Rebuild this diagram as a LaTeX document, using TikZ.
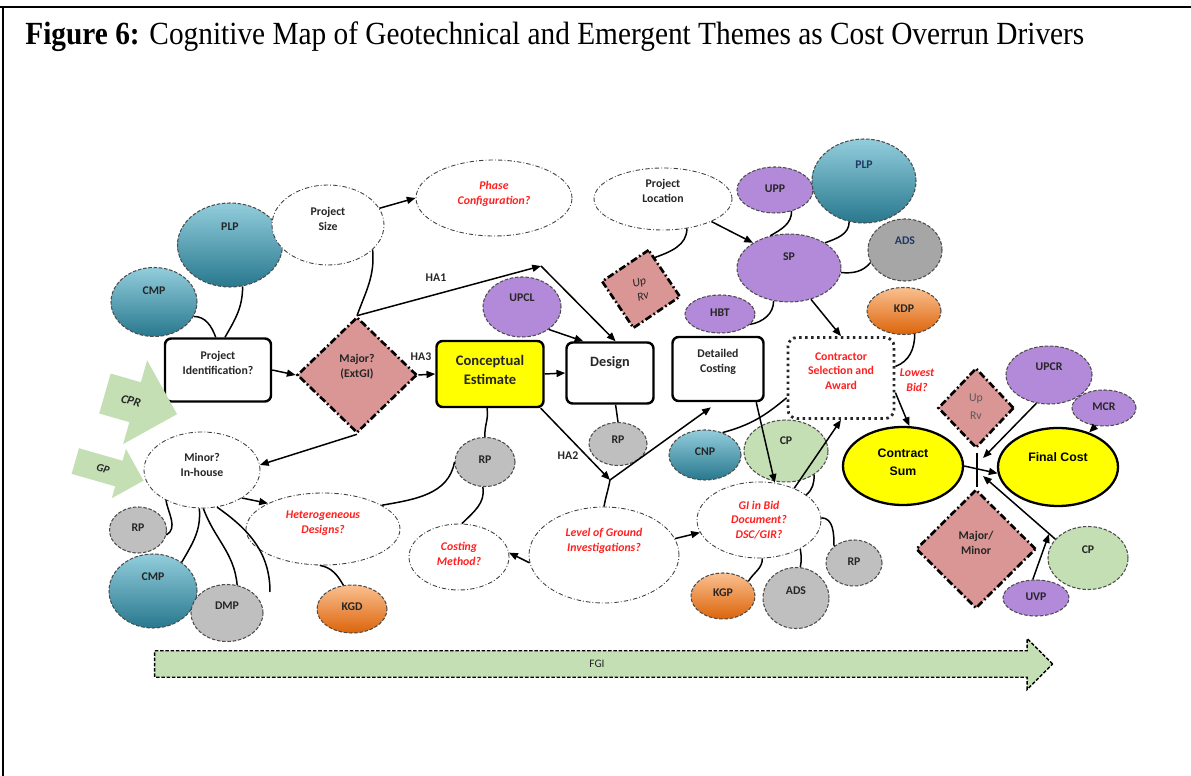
\documentclass[tikz,border=0pt]{standalone}
\usepackage{fontspec}
\setmainfont{Liberation Serif}
\setsansfont{Carlito}
\newfontfamily\arialbf{Liberation Sans}
\usetikzlibrary{arrows.meta,shapes.geometric,shapes.arrows,positioning}

\definecolor{tealtop}{RGB}{146,205,220}
\definecolor{tealbot}{RGB}{40,120,142}
\definecolor{orgtop}{RGB}{250,192,144}
\definecolor{orgbot}{RGB}{220,100,10}
\definecolor{purp}{RGB}{179,137,217}
\definecolor{greyf}{RGB}{191,191,191}
\definecolor{greyd}{RGB}{166,166,166}
\definecolor{sage}{RGB}{196,223,180}
\definecolor{rose}{RGB}{217,150,148}
\definecolor{yell}{RGB}{255,255,0}
\definecolor{redtx}{RGB}{255,32,32}
\definecolor{navy}{RGB}{31,56,100}
\newcommand{\pxu}{0.02cm}

\begin{document}
\begin{tikzpicture}[x=0.02cm,y=-0.02cm,>={Triangle[length=5pt,width=4pt]},
    lbl/.style={font=\sffamily\bfseries\fontsize{6.7}{8.4}\selectfont,text=black!85,align=center,inner sep=0pt},
    redit/.style={text=redtx,font=\sffamily\bfseries\itshape\fontsize{6.7}{8.4}\selectfont},
    tx/.style n args={3}{label={[lbl,#3,yshift=#1*\pxu]center:{#2}}},
    sz/.style 2 args={minimum width=#1*\pxu,minimum height=#2*\pxu,inner sep=0pt},
    open/.style={ellipse,draw=black!75,line width=0.5pt,dash pattern=on 2.5pt off 1.2pt on 0.5pt off 1.2pt,fill=white},
    blob/.style={ellipse,draw=black!70,line width=0.6pt,dash pattern=on 2pt off 1pt},
    tealb/.style={blob,top color=tealtop,bottom color=tealbot},
    orgb/.style={blob,top color=orgtop,bottom color=orgbot},
    purpb/.style={blob,fill=purp},
    greyb/.style={blob,fill=greyf},
    sageb/.style={blob,fill=sage},
    rvb/.style={draw=black,fill=rose,line width=1.5pt,dash pattern=on 4pt off 1.5pt on 1pt off 1.5pt},
    dia/.style={rvb,diamond},
    stage/.style={rectangle,rounded corners=3.5pt,draw=black,line width=1.4pt,fill=white},
    bigarr/.style={single arrow,fill=sage,draw=none,text=black!85,inner xsep=1pt},
    link/.style={line width=0.85pt,black}]

  \useasboundingbox (0,0) rectangle (1191,776);
  \draw[line width=1pt] (0,7) -- (1191,7);
  \draw[line width=0.7pt] (3,7) -- (3,776);
  \node[anchor=base west,inner sep=0pt,font=\fontsize{16.7}{19}\selectfont] (title) at (25,45)
    {\scalebox{1}[1.1]{\textbf{Figure 6:} Cognitive Map of Geotechnical and Emergent Themes as Cost Overrun Drivers}};

  % left side
  \node[tealb,sz={105}{84},tx={18}{PLP}{}] (plpL) at (230,245) {};
  \node[tealb,sz={86}{69},tx={11}{CMP}{}] (cmpT) at (154,302) {};
  \node[open,sz={112}{80},tx={6}{Project\\Size}{}] (psize) at (328,225) {};
  \node[open,sz={156}{76},tx={4}{Phase\\Configuration?}{redit}] (phase) at (494,198) {};
  \node[stage,sz={106}{63},tx={7}{Project\\Identification?}{}] (pid) at (218,370) {};
  \node[dia,sz={120}{116},tx={8}{Major?\\(ExtGI)}{}] (major) at (357,375) {};
  \node[bigarr,rotate=-16,minimum height=75*\pxu,inner ysep=9.3pt,single arrow head extend=13pt,
        font=\sffamily\bfseries\itshape\fontsize{7}{8}\selectfont] (cpr) at (131,401) {CPR};
  \node[bigarr,rotate=-16,minimum height=71*\pxu,inner ysep=5.3pt,single arrow head extend=7pt,
        font=\sffamily\bfseries\itshape\fontsize{6.3}{7}\selectfont] (gp) at (103,469) {GP};
  \node[open,sz={116}{76},tx={5}{Minor?\\In-house}{}] (minor) at (202,470) {};
  \node[open,sz={154}{72},tx={6}{Heterogeneous\\Designs?}{redit}] (hetero) at (323,529) {};
  \node[greyb,sz={57}{46},tx={2}{RP}{}] (rpL) at (138,530) {};
  \node[tealb,sz={88}{74},tx={14}{CMP}{}] (cmpB) at (153,591) {};
  \node[greyb,sz={72}{57},tx={7}{DMP}{}] (dmp) at (227,613) {};
  \node[orgb,sz={70}{48},tx={2}{KGD}{}] (kgd) at (352,609) {};

  % middle
  \node[stage,fill=yell,sz={107}{66},tx={4}{Conceptual\\Estimate}{font=\sffamily\bfseries\fontsize{8.3}{11.3}\selectfont}] (ce) at (490,374) {};
  \node[purpb,sz={78}{60},tx={9}{UPCL}{}] (upcl) at (522,307) {};
  \node[stage,sz={87}{61},tx={10}{Design}{font=\sffamily\bfseries\fontsize{8.1}{10}\selectfont}] (design) at (610,373) {};
  \node[stage,sz={91}{64},tx={7}{Detailed\\Costing}{}] (dcost) at (718,369) {};
  \node[open,sz={138}{62},tx={8}{Project\\Location}{}] (ploc) at (663,199) {};
  \node[rvb,rectangle,sz={56}{56},rotate=34,
        tx={0}{Up\\Rv}{rotate=15,font=\sffamily\itshape\fontsize{6.7}{8.4}\selectfont}] (uprvT) at (641,289) {};
  \node[greyb,sz={60}{49},tx={2}{RP}{}] (rpM) at (485,462) {};
  \node[open,sz={100}{66},tx={3}{Costing\\Method?}{redit}] (cmeth) at (459,557) {};
  \node[open,sz={150}{96},tx={14}{Level of Ground\\Investigations?}{redit}] (lgi) at (604,555) {};
  \node[greyb,sz={58}{43},tx={4}{RP}{}] (rpD) at (618,444) {};
  \node[tealb,sz={72}{50},tx={3}{CNP}{}] (cnp) at (705,455) {};
  \node[sageb,sz={84}{62},tx={10}{CP}{}] (cpM) at (786,451) {};
  \node[open,sz={124}{76},tx={0}{GI in Bid\\Document?\\DSC/GIR?}{redit}] (gib) at (759,520) {};
  \node[orgb,sz={64}{46},tx={3}{KGP}{}] (kgp) at (723,596) {};
  \node[greyb,sz={66}{61},tx={7}{ADS}{}] (adsB) at (796,598) {};
  \node[greyb,sz={56}{46},tx={1}{RP}{}] (rpR) at (854,563) {};

  % right side
  \node[purpb,sz={76}{46},tx={1}{UPP}{}] (upp) at (775,190) {};
  \node[tealb,sz={104}{84},tx={16}{PLP}{text=navy}] (plpR) at (864,181) {};
  \node[purpb,sz={104}{68},tx={11}{SP}{}] (sp) at (789,268) {};
  \node[greyb,fill=greyd,sz={74}{62},tx={9}{ADS}{text=navy}] (adsT) at (905,250) {};
  \node[orgb,sz={74}{47},tx={2}{KDP}{}] (kdp) at (904,311) {};
  \node[purpb,sz={70}{38},tx={1}{HBT}{}] (hbt) at (720,314) {};
  \node[stage,draw=black!85,dotted,line width=1.6pt,rounded corners=5pt,sz={106}{81},
        tx={7}{Contractor\\Selection and\\Award}{text=redtx}] (csa) at (841,378) {};
  \node[lbl,redit] (lbid) at (917,380) {Lowest\\Bid?};
  \node[ellipse,draw=black,line width=1.3pt,fill=yell,sz={120}{78},
        tx={4}{Contract\\Sum}{text=black,font=\arialbf\bfseries\fontsize{7}{10.2}\selectfont}] (csum) at (903,466) {};
  \node[ellipse,draw=black,line width=1.3pt,fill=yell,sz={120}{78},
        tx={10}{Final Cost}{text=black,font=\arialbf\bfseries\fontsize{7}{10.2}\selectfont}] (fcost) at (1058,467) {};
  \node[dia,sz={76}{80},tx={1}{Up\\Rv}{font=\sffamily\fontsize{6.7}{10.5}\selectfont,text=black!65}] (uprvR) at (976,408) {};
  \node[purpb,sz={86}{58},tx={8}{UPCR}{}] (upcr) at (1049,375) {};
  \node[purpb,sz={64}{36},tx={1}{MCR}{}] (mcr) at (1104,408) {};
  \node[dia,sz={120}{119},tx={6}{Major/\\Minor}{}] (mm) at (976,549) {};
  \node[sageb,sz={80}{63},tx={8}{CP}{}] (cpR) at (1088,558) {};
  \node[purpb,sz={66}{36},tx={1}{UVP}{}] (uvp) at (1036,598) {};

  % bottom band
  \node[bigarr,draw=black,dash pattern=on 2pt off 1pt,line width=0.8pt,minimum height=898*\pxu,
        inner ysep=5pt,single arrow head extend=7pt,font=\sffamily\fontsize{6.5}{7}\selectfont] (fgi) at (597,664) {FGI};

  % junction points
  \coordinate (jA) at (541,266);
  \coordinate (jB) at (610,480);
  \coordinate (jC) at (977,453);
  \coordinate (jD) at (977,487);
  \coordinate (jE) at (983,458);
  \coordinate (jF) at (983,476);
  \coordinate (jG) at (1049,534);
  \coordinate (jI) at (270,592);

  \node[lbl] (ha1) at (436,278) {HA1};
  \node[lbl] (ha3) at (421,357) {HA3};
  \node[lbl] (ha2) at (568,456) {HA2};

  % arrows
  \draw[link,->] (psize.18) -- (phase.west);
  \draw[link,->] (pid.east) -- (major.west);
  \draw[link,->] (major.east) -- (ce.west);
  \draw[link,->] (ce.east) -- (design.west);
  \draw[link,->] (major.north) -- (jA);
  \draw[link,->] (jA) -- (design.80);
  \draw[link,->] (upcl.-40) -- (design.130);
  \draw[link,->] (major.south) -- (minor.5);
  \draw[link,->] (minor.-35) -- (hetero.155);
  \draw[link,->] (ce.-34) -- (jB);
  \draw[link,->,shorten >=5pt] (jB) -- (dcost.south);
  \draw[link,->] (lgi.186) -- (cmeth.5);
  \draw[link,->] (lgi.13) -- (gib.192);
  \draw[link,->] (dcost.-41) -- (gib.67);
  \draw[link,->] (gib.42) -- (csa.south);
  \draw[link,->] (ploc.-25) -- (sp.145);
  \draw[link,->] (sp.-55) -- (csa.north);
  \draw[link,->] (csa.-15) -- (csum.81);
  \draw[link,->] (csum.east) -- (fcost.186);
  \draw[link,->] (mcr.-115) -- (fcost.48);
  \draw[link,->] (upcr.-114) -- (jE);
  \draw[link,->] (cpR.150) -- (jF);
  \draw[link,->] (uvp.100) -- (jG);
  \draw[link,line width=0.6pt] (jC) -- (jD);

  % plain links
  \draw[link] (psize.-29) to[out=-85,in=70] (major.north);
  \draw[link] (plpL.-73) to[out=-90,in=60] (pid.78);
  \draw[link] (cmpT.-20) to[out=0,in=110] (pid.94);
  \draw[link] (minor.220) to[out=-80,in=30] (rpL.-10);
  \draw[link] (minor.-94) to[out=-85,in=60] (cmpB.45);
  \draw[link] (minor.-88) to[out=-70,in=95] (dmp.70);
  \draw[link] (minor.-68) to[out=-35,in=90] (jI);
  \draw[link] (hetero.22) to[out=10,in=-100] (rpM.180);
  \draw[link] (hetero.-95) to[out=-10,in=120] (kgd.110);
  \draw[link] (ce.265) to[out=-80,in=95] (rpM.north);
  \draw[link] (rpM.265) to[out=-80,in=45] (cmeth.85);
  \draw[link] (lgi.north) to[out=80,in=-100] (jB);
  \draw[link] (design.-80) -- (rpD.north);
  \draw[link] (cnp.52) to[out=15,in=-140] (csa.200);
  \draw[link] (cpM.-40) to[out=-90,in=40] (gib.28);
  \draw[link] (gib.2) to[out=0,in=90] (rpR.140);
  \draw[link] (gib.-85) to[out=-90,in=60] (kgp.30);
  \draw[link] (gib.-35) to[out=-80,in=80] (adsB.82);
  \draw[link] (ploc.-51) to[out=-90,in=20] (uprvT.32);
  \draw[link] (upp.-52) to[out=-90,in=30] (sp.120);
  \draw[link] (plpR.-110) to[out=-90,in=20] (sp.35);
  \draw[link] (adsT.200) to[out=-130,in=-5] (sp.-5);
  \draw[link] (hbt.-19) to[out=10,in=-90] (sp.-115);
  \draw[link] (kdp.-65) to[out=-90,in=20] (csa.12);
\end{tikzpicture}
\end{document}
